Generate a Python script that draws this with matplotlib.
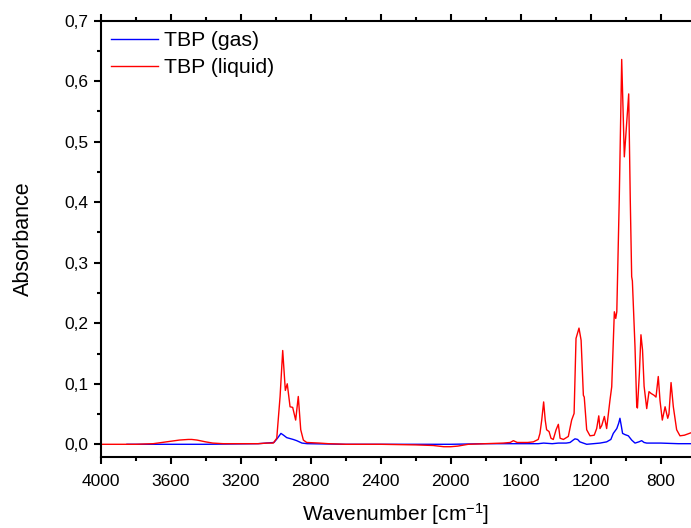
import matplotlib
matplotlib.use("Agg")
import matplotlib.pyplot as plt
from matplotlib.ticker import MultipleLocator, FuncFormatter

plt.rcParams['font.family'] = ['Liberation Sans', 'DejaVu Sans']
plt.rcParams['mathtext.fontset'] = 'custom'
plt.rcParams['mathtext.rm'] = 'Liberation Sans'
plt.rcParams['mathtext.it'] = 'Liberation Sans'

# TBP liquid spectrum (wavenumber, absorbance)
liquid_wn = [4000, 3800, 3700, 3650, 3600, 3550, 3500, 3480, 3450, 3400,
             3360, 3300, 3200, 3100, 3050, 3014, 2994, 2975, 2960, 2945,
             2934, 2918, 2903, 2886, 2871, 2857, 2842, 2823, 2750, 2700,
             2600, 2400, 2200, 2100, 2040, 2000, 1960, 1900, 1800, 1700,
             1660, 1642, 1620, 1560, 1528, 1500, 1490, 1480, 1469, 1460,
             1452, 1438, 1427, 1414, 1398, 1385, 1375, 1356, 1328, 1309,
             1295, 1284, 1267, 1255, 1242, 1237, 1223, 1204, 1180, 1166,
             1154, 1147, 1137, 1122, 1109, 1090, 1080, 1065, 1057, 1051,
             1037, 1023, 1008, 983, 974, 966, 962, 947, 937, 933,
             922, 913, 904, 895, 880, 867, 855, 838, 827, 814,
             804, 791, 775, 760, 753, 741, 728, 709, 690, 665,
             627]
liquid_abs = [0.0, 0.0, 0.001, 0.003, 0.005, 0.007, 0.008, 0.008, 0.007, 0.004,
              0.002, 0.001, 0.001, 0.001, 0.002, 0.002, 0.01, 0.079, 0.155, 0.089,
              0.1, 0.062, 0.061, 0.04, 0.079, 0.024, 0.007, 0.003, 0.002, 0.001,
              0.0, 0.0, -0.001, -0.002, -0.004, -0.004, -0.003, 0.0, 0.001, 0.002,
              0.003, 0.006, 0.003, 0.003, 0.004, 0.008, 0.018, 0.04, 0.07, 0.04,
              0.024, 0.021, 0.01, 0.008, 0.024, 0.033, 0.01, 0.008, 0.013, 0.04,
              0.051, 0.175, 0.192, 0.172, 0.081, 0.078, 0.024, 0.014, 0.015, 0.026,
              0.047, 0.026, 0.031, 0.046, 0.026, 0.073, 0.095, 0.219, 0.208, 0.219,
              0.404, 0.636, 0.475, 0.579, 0.404, 0.277, 0.27, 0.161, 0.062, 0.06,
              0.117, 0.181, 0.156, 0.096, 0.059, 0.087, 0.084, 0.081, 0.078, 0.112,
              0.072, 0.04, 0.062, 0.043, 0.05, 0.102, 0.062, 0.024, 0.014, 0.015,
              0.019]

# TBP gas spectrum
gas_wn = [3850, 3600, 3400, 3100, 3010, 2990, 2970, 2955, 2937, 2900,
          2880, 2850, 2820, 2600, 2200, 2000, 1800, 1600, 1500, 1469,
          1420, 1385, 1340, 1318, 1300, 1290, 1275, 1262, 1223, 1147,
          1109, 1085, 1071, 1051, 1040, 1033, 1025, 1018, 1004, 985,
          966, 947, 925, 909, 895, 880, 800, 700, 627]
gas_abs = [0.0, 0.0, 0.0, 0.001, 0.003, 0.01, 0.018, 0.015, 0.011, 0.008,
           0.006, 0.002, 0.001, 0.0, 0.0, 0.0, 0.001, 0.001, 0.001, 0.002,
           0.001, 0.002, 0.002, 0.003, 0.007, 0.009, 0.008, 0.004, 0.0, 0.002,
           0.004, 0.008, 0.018, 0.026, 0.035, 0.043, 0.03, 0.018, 0.016, 0.014,
           0.007, 0.002, 0.004, 0.006, 0.003, 0.002, 0.002, 0.001, 0.001]

fig = plt.figure(figsize=(6.91, 5.28), dpi=100)
ax = fig.add_axes([100.7 / 691, 71 / 528, 1 - 100.7 / 691, 436.3 / 528])

ax.plot(gas_wn, gas_abs, color='#0000ff', lw=1.0, label='TBP (gas)')
ax.plot(liquid_wn, liquid_abs, color='#ff0000', lw=1.0, label='TBP (liquid)')

ax.set_xlim(4000, 627)
ax.set_ylim(-0.021, 0.7)

ax.xaxis.set_major_locator(MultipleLocator(400))
ax.xaxis.set_minor_locator(MultipleLocator(200))
ax.yaxis.set_major_locator(MultipleLocator(0.1))
ax.yaxis.set_minor_locator(MultipleLocator(0.05))
ax.yaxis.set_major_formatter(FuncFormatter(lambda v, p: f"{v:.1f}".replace('.', ',').replace('-0,0', '0,0')))

ax.spines['right'].set_visible(False)
for s in ['left', 'top', 'bottom']:
    ax.spines[s].set_linewidth(1.5)

ax.tick_params(which='both', direction='out', top=True, right=False, width=1.5)
ax.tick_params(which='major', length=5, labelsize=12.5)
ax.tick_params(which='minor', length=3)
ax.tick_params(axis='x', which='major', pad=7)
ax.tick_params(axis='y', which='major', pad=4)

ax.set_xlabel('Wavenumber [cm$^{-1}$]', fontsize=15, labelpad=9)
ax.set_ylabel('Absorbance', fontsize=15.5, labelpad=22)

ax.legend(loc='upper left', frameon=False, fontsize=15.3, handlelength=2.2,
          handletextpad=0.3, labelspacing=0.38, borderaxespad=0.25, borderpad=0.25)

fig.savefig('out.png', dpi=100)
